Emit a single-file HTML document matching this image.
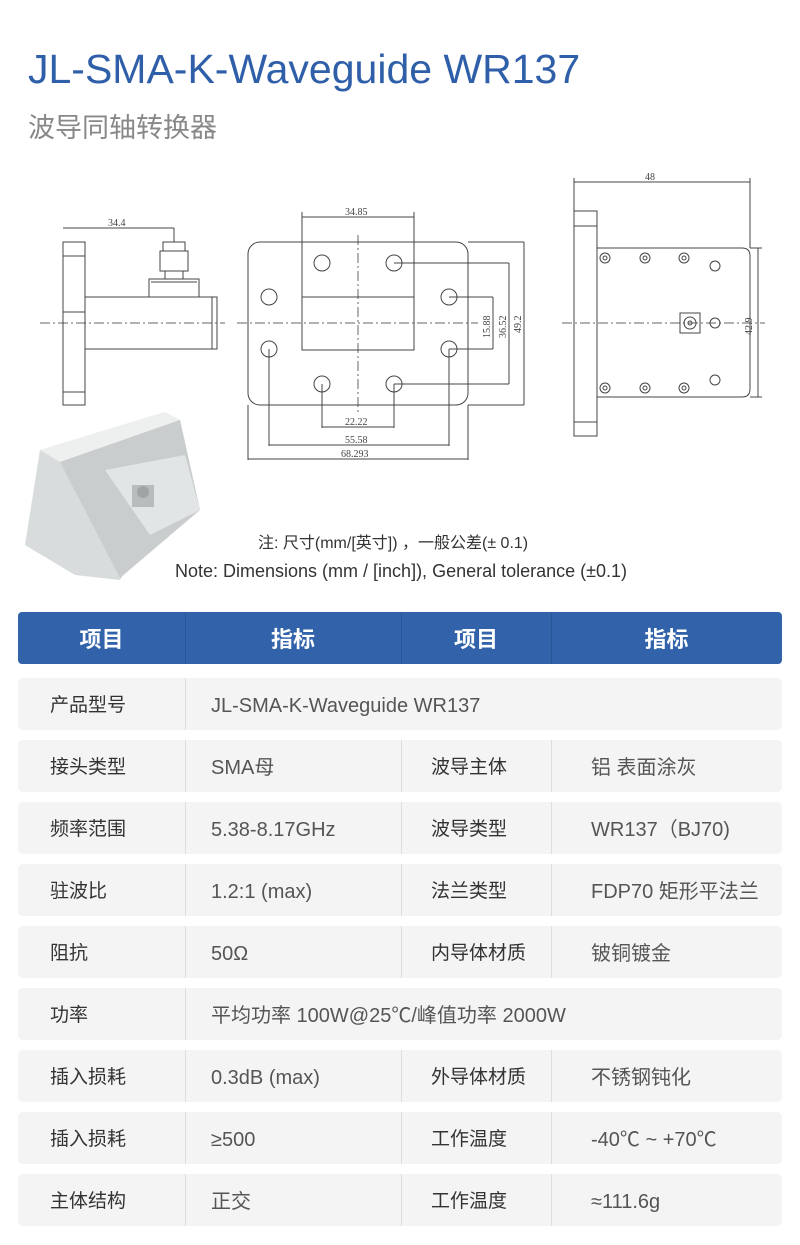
<!DOCTYPE html>
<html><head><meta charset="utf-8"><style>
body{margin:0;width:800px;height:1245px;background:#fff;font-family:"Liberation Sans","Noto Sans CJK SC",sans-serif;position:relative;overflow:hidden}
.a{position:absolute}
.h{background:#3263aa;color:#fff;font-size:22px;font-weight:bold}
.r{background:#f4f4f4;border-radius:5px;left:18px;width:764px;height:52px}
.c{position:absolute;top:2px;height:52px;line-height:52px;font-size:19px;color:#333}
.v{color:#555;font-size:20px}
.d{position:absolute;top:0;width:1px;height:52px;background:#ddd}
</style></head><body>
<div class="a" style="left:28px;top:46px;font-size:41px;color:#2f5fa8;font-weight:500">JL-SMA-K-Waveguide WR137</div>
<div class="a" style="left:28px;top:106px;font-size:27px;color:#888">波导同轴转换器</div>
<svg class="a" style="left:0;top:0" width="800" height="600" fill="none" stroke="#444" stroke-width="1" font-family="Liberation Serif,serif" font-size="10">
<g stroke-dasharray="10,3,2,3" stroke="#666"><line x1="40" y1="323" x2="225" y2="323"/><line x1="237" y1="323" x2="478" y2="323"/><line x1="358" y1="235" x2="358" y2="412"/><line x1="562" y1="323" x2="765" y2="323"/></g>
<rect x="63" y="242" width="22" height="163"/><line x1="63" y1="256" x2="85" y2="256"/><line x1="63" y1="392" x2="85" y2="392"/>
<rect x="85" y="297" width="132" height="52"/><line x1="212" y1="297" x2="212" y2="349"/><line x1="63" y1="312" x2="85" y2="312"/>
<rect x="149" y="279" width="50" height="18"/><line x1="151" y1="282" x2="197" y2="282"/>
<rect x="160" y="251" width="28" height="20"/><rect x="163" y="242" width="22" height="9"/><line x1="165" y1="271" x2="165" y2="279"/><line x1="183" y1="271" x2="183" y2="279"/>
<line x1="63" y1="228" x2="174" y2="228"/><line x1="174" y1="228" x2="174" y2="242"/><text x="108" y="226" fill="#444" stroke="none">34.4</text>
<rect x="248" y="242" width="220" height="163" rx="12"/>
<rect x="302" y="297" width="112" height="53"/><line x1="302" y1="212" x2="302" y2="297"/><line x1="414" y1="212" x2="414" y2="297"/>
<line x1="302" y1="217" x2="414" y2="217"/><text x="345" y="215" fill="#444" stroke="none">34.85</text>
<g><circle cx="322" cy="263" r="8"/><circle cx="394" cy="263" r="8"/><circle cx="269" cy="297" r="8"/><circle cx="449" cy="297" r="8"/><circle cx="269" cy="349" r="8"/><circle cx="449" cy="349" r="8"/><circle cx="322" cy="384" r="8"/><circle cx="394" cy="384" r="8"/></g>
<path d="M449 297H493M449 349H493M394 263H509M394 384H509M468 242H524M468 405H524M493 297V349M509 263V384M524 242V405"/>
<text transform="translate(490,338) rotate(-90)" fill="#444" stroke="none">15.88</text><text transform="translate(506,338) rotate(-90)" fill="#444" stroke="none">36.52</text><text transform="translate(521,333) rotate(-90)" fill="#444" stroke="none">49.2</text>
<path d="M322 384V428M394 384V428M269 349V446M449 349V446M248 405V460M468 405V460M322 427H394M269 445H449M248 459H468"/>
<text x="345" y="425" fill="#444" stroke="none">22.22</text><text x="345" y="443" fill="#444" stroke="none">55.58</text><text x="341" y="457" fill="#444" stroke="none">68.293</text>
<rect x="574" y="211" width="23" height="225"/><line x1="574" y1="226" x2="597" y2="226"/><line x1="574" y1="422" x2="597" y2="422"/>
<path d="M597 248H742Q750 248 750 256V389Q750 397 742 397H597"/>
<path d="M574 211V178M750 248V178M574 182H750M750 248H762M750 397H762M758 248V397"/><text x="645" y="180" fill="#444" stroke="none">48</text>
<text transform="translate(752,335) rotate(-90)" fill="#444" stroke="none">42.9</text>
<g><circle cx="605" cy="258" r="5"/><circle cx="645" cy="258" r="5"/><circle cx="684" cy="258" r="5"/><circle cx="715" cy="266" r="5"/><circle cx="605" cy="388" r="5"/><circle cx="645" cy="388" r="5"/><circle cx="684" cy="388" r="5"/><circle cx="715" cy="380" r="5"/><circle cx="715" cy="323" r="5"/><circle cx="605" cy="258" r="2"/><circle cx="645" cy="258" r="2"/><circle cx="684" cy="258" r="2"/><circle cx="605" cy="388" r="2"/><circle cx="645" cy="388" r="2"/><circle cx="684" cy="388" r="2"/></g>
<rect x="680" y="313" width="20" height="20"/><circle cx="690" cy="323" r="6"/><circle cx="690" cy="323" r="2"/>
<g stroke="none"><polygon points="40,450 165,412 180,420 200,510 150,530 120,580 75,575 25,545" fill="#d8dcdc"/><polygon points="40,450 165,412 180,420 60,462" fill="#eef0f0"/><polygon points="60,462 180,420 200,510 120,578" fill="#c9cdcd"/><polygon points="105,470 185,455 200,510 150,535" fill="#e2e5e5"/><rect x="132" y="485" width="22" height="22" fill="#b8bcbc"/><circle cx="143" cy="492" r="6" fill="#a0a4a4"/></g>
</svg>
<div class="a" style="left:258px;top:529px;font-size:16px;color:#333">注: 尺寸(mm/[英寸]) ，一般公差(± 0.1)</div>
<div class="a" style="left:175px;top:561px;font-size:18px;color:#333">Note: Dimensions (mm / [inch]), General tolerance (±0.1)</div>
<div class="a h" style="left:18px;top:612px;width:764px;height:52px;border-radius:4px">
<div class="c" style="left:0;width:167px;text-align:center;color:#fff;font-size:22px">项目</div><div class="c" style="left:167px;width:216px;text-align:center;color:#fff;font-size:22px">指标</div><div class="c" style="left:383px;width:150px;text-align:center;color:#fff;font-size:22px">项目</div><div class="c" style="left:533px;width:231px;text-align:center;color:#fff;font-size:22px">指标</div>
<div class="d" style="left:167px;background:#2a5597"></div><div class="d" style="left:383px;background:#2a5597"></div><div class="d" style="left:533px;background:#2a5597"></div></div>
<div class="a r" style="top:678px"><div class="c" style="left:32px">产品型号</div><div class="d" style="left:167px"></div><div class="c v" style="left:193px">JL-SMA-K-Waveguide WR137</div></div>
<div class="a r" style="top:740px"><div class="c" style="left:32px">接头类型</div><div class="d" style="left:167px"></div><div class="c v" style="left:193px">SMA母</div><div class="d" style="left:383px"></div><div class="c" style="left:413px">波导主体</div><div class="d" style="left:533px"></div><div class="c v" style="left:573px">铝 表面涂灰</div></div>
<div class="a r" style="top:802px"><div class="c" style="left:32px">频率范围</div><div class="d" style="left:167px"></div><div class="c v" style="left:193px">5.38-8.17GHz</div><div class="d" style="left:383px"></div><div class="c" style="left:413px">波导类型</div><div class="d" style="left:533px"></div><div class="c v" style="left:573px">WR137（BJ70)</div></div>
<div class="a r" style="top:864px"><div class="c" style="left:32px">驻波比</div><div class="d" style="left:167px"></div><div class="c v" style="left:193px">1.2:1 (max)</div><div class="d" style="left:383px"></div><div class="c" style="left:413px">法兰类型</div><div class="d" style="left:533px"></div><div class="c v" style="left:573px">FDP70 矩形平法兰</div></div>
<div class="a r" style="top:926px"><div class="c" style="left:32px">阻抗</div><div class="d" style="left:167px"></div><div class="c v" style="left:193px">50Ω</div><div class="d" style="left:383px"></div><div class="c" style="left:413px">内导体材质</div><div class="d" style="left:533px"></div><div class="c v" style="left:573px">铍铜镀金</div></div>
<div class="a r" style="top:988px"><div class="c" style="left:32px">功率</div><div class="d" style="left:167px"></div><div class="c v" style="left:193px">平均功率 100W@25℃/峰值功率 2000W</div></div>
<div class="a r" style="top:1050px"><div class="c" style="left:32px">插入损耗</div><div class="d" style="left:167px"></div><div class="c v" style="left:193px">0.3dB (max)</div><div class="d" style="left:383px"></div><div class="c" style="left:413px">外导体材质</div><div class="d" style="left:533px"></div><div class="c v" style="left:573px">不锈钢钝化</div></div>
<div class="a r" style="top:1112px"><div class="c" style="left:32px">插入损耗</div><div class="d" style="left:167px"></div><div class="c v" style="left:193px">≥500</div><div class="d" style="left:383px"></div><div class="c" style="left:413px">工作温度</div><div class="d" style="left:533px"></div><div class="c v" style="left:573px">-40℃ ~ +70℃</div></div>
<div class="a r" style="top:1174px"><div class="c" style="left:32px">主体结构</div><div class="d" style="left:167px"></div><div class="c v" style="left:193px">正交</div><div class="d" style="left:383px"></div><div class="c" style="left:413px">工作温度</div><div class="d" style="left:533px"></div><div class="c v" style="left:573px">≈111.6g</div></div>
</body></html>
